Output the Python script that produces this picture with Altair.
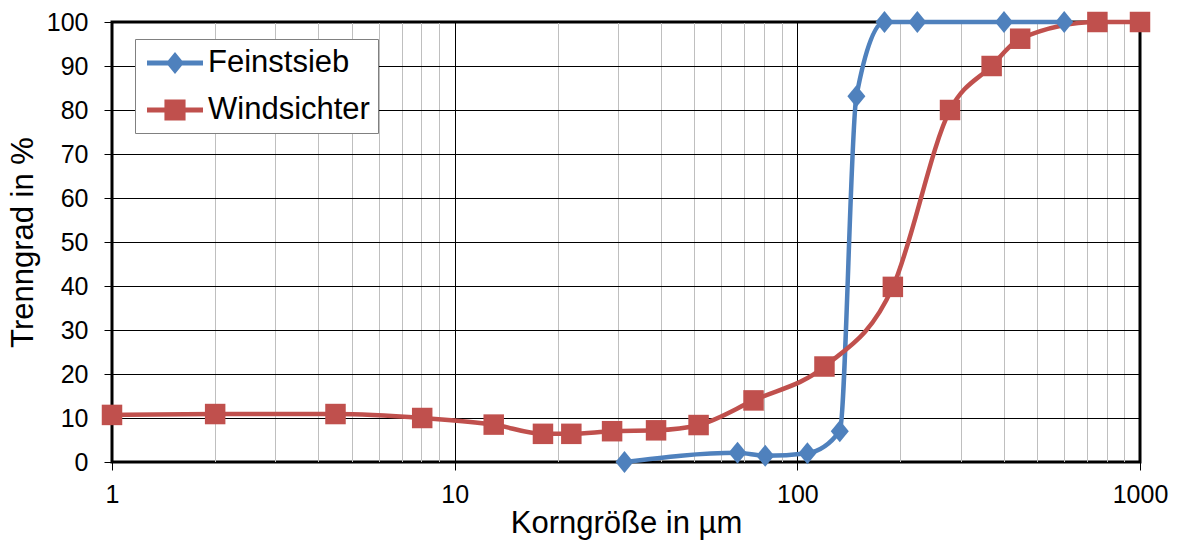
import altair as alt
import pandas as pd

# ---- data ----
series_names = ["Feinstsieb", "Windsichter"]
series_colors = ["#4F81BD", "#C0504D"]

fein_x = [31.3, 66.9, 80.6, 107, 133, 148.7, 179.6, 224, 401, 601]
fein_y = [0, 2.1, 1.4, 2.0, 7.0, 83.1, 100, 100, 100, 100]

wind_x = [1, 2.0, 4.49, 8.04, 13.0, 18.1, 21.9, 28.8, 38.7, 51.5, 74.5, 120, 190, 279, 369, 447, 751, 1000]
wind_y = [10.7, 10.9, 10.9, 10.0, 8.5, 6.4, 6.4, 7.0, 7.2, 8.4, 14.0, 21.7, 39.8, 80, 90, 96.2, 100, 100]

x_labels = [1, 10, 100, 1000]
x_grid = [m * 10 ** k for k in range(3) for m in range(1, 10)] + [1000]
y_ticks = list(range(0, 101, 10))

df = pd.DataFrame({
    "x": fein_x + wind_x,
    "y": fein_y + wind_y,
    "series": [series_names[0]] * len(fein_x) + [series_names[1]] * len(wind_x),
})

FONT = "Liberation Sans"
is_decade = "indexof([1,10,100,1000], datum.value) >= 0"

x_enc = alt.X(
    "x:Q",
    scale=alt.Scale(type="log", domain=[1, 1000]),
    axis=alt.Axis(
        values=x_grid,
        labelExpr=is_decade + " ? format(datum.value, 'd') : ''",
        labelOverlap=False,
        labelFlush=False,
        gridColor=alt.condition(is_decade, alt.value("#000000"), alt.value("#BFBFBF")),
        tickColor=alt.condition(is_decade, alt.value("#000000"), alt.value("transparent")),
        tickSize=8,
        labelPadding=12,
        title="Korngröße in µm",
        titleX=514,
        titleY=46,
        titleBaseline="top",
    ),
)
y_enc = alt.Y(
    "y:Q",
    scale=alt.Scale(domain=[0, 100], nice=False),
    axis=alt.Axis(
        values=y_ticks,
        gridColor="#000000",
        tickColor="#000000",
        tickSize=8,
        labelPadding=16,
        title="Trenngrad in %",
        titleX=-89,
        titleY=220,
        titleAngle=270,
        titleAlign="center",
        titleBaseline="middle",
    ),
)

base = alt.Chart(df)

def line_layer(name, color):
    return base.transform_filter(alt.datum.series == name).mark_line(
        color=color, strokeWidth=4.5, interpolate="monotone"
    ).encode(x=x_enc, y=y_enc)

diamond = "M-0.82,0L0,-1L0.82,0L0,1Z"
pts_fein = base.transform_filter(alt.datum.series == series_names[0]).mark_point(
    shape=diamond, size=484, filled=True, opacity=1, color=series_colors[0], strokeWidth=0
).encode(x=x_enc, y=y_enc)
pts_wind = base.transform_filter(alt.datum.series == series_names[1]).mark_point(
    shape="square", size=420, filled=True, opacity=1, color=series_colors[1], strokeWidth=0
).encode(x=x_enc, y=y_enc)

# legend symbols: thick line with marker (units of 16 px, shifted right by one unit)
leg_line = "M-0.75,-0.15H2.75V0.15H-0.75Z"
leg_fein = leg_line + "M0.4375,0L1,-0.6875L1.5625,0L1,0.6875Z"
leg_wind = leg_line + "M0.34,-0.66H1.66V0.66H0.34Z"

legend = alt.Legend(
    title=None, orient="none", legendX=23, legendY=17, padding=8,
    symbolSize=1024, symbolStrokeWidth=0, symbolOpacity=1,
    labelFont=FONT, labelFontSize=31, labelColor="#000000", labelOffset=33,
    labelExpr="datum.label + ' '",
    rowPadding=16, strokeColor="#808080", fillColor="#FFFFFF", labelLimit=0,
)
legend_layer = base.transform_filter("false").mark_point(filled=True, size=1024).encode(
    x=x_enc, y=y_enc,
    color=alt.Color("series:N", scale=alt.Scale(domain=series_names, range=series_colors), legend=legend),
    shape=alt.Shape("series:N", scale=alt.Scale(domain=series_names, range=[leg_fein, leg_wind]), legend=legend),
)

chart = alt.layer(
    line_layer(series_names[0], series_colors[0]),
    line_layer(series_names[1], series_colors[1]),
    pts_fein, pts_wind, legend_layer,
).properties(
    width=1028, height=440,
    autosize=alt.AutoSizeParams(type="none"),
    padding={"left": 112, "top": 22, "right": 38, "bottom": 80},
    background="#FFFFFF",
).configure_view(
    stroke="#000000", strokeWidth=3
).configure_axis(
    domain=False,
    gridWidth=1,
    gridOpacity=1,
    labelFont=FONT, labelFontSize=25, labelColor="#000000",
    titleFont=FONT, titleFontSize=31, titleColor="#000000", titleFontWeight="normal",
)

chart.save("out.html", embed_options={"renderer": "svg", "actions": False})
